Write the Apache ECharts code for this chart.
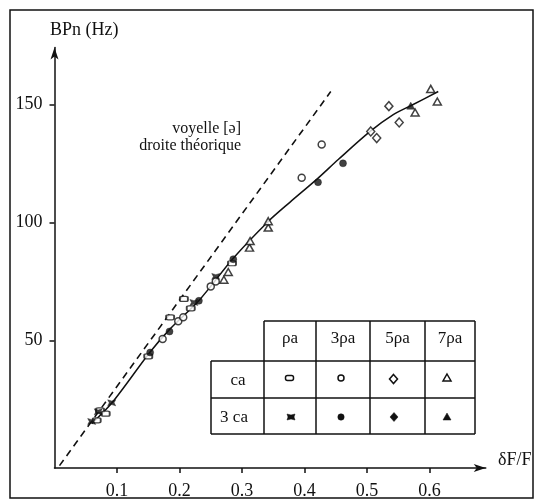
<!DOCTYPE html>
<html>
<head>
<meta charset="utf-8">
<script src="https://cdn.jsdelivr.net/npm/echarts@6/dist/echarts.min.js"></script>
<style>
html, body { margin: 0; background: #fff; }
#chart { width: 543px; height: 500px; }
</style>
</head>
<body>
<div id="chart"></div>
<script>
const xTicks = [0.1, 0.2, 0.3, 0.4, 0.5, 0.6];
const yTicks = [50, 100, 150];

// droite théorique (voyelle [ə])
const theoryLine = [[0.008, -3], [0.442, 155.4]];
// courbe tracée à travers les mesures
const fitCurve = [
    [0.0595, 14.8], [0.092, 23.6], [0.153, 45.1], [0.185, 54.9], [0.233, 67.5],
    [0.286, 84.8], [0.342, 100.4], [0.377, 108.6], [0.4195, 118.2], [0.454, 126.6],
    [0.505, 138.5], [0.542, 145.6], [0.5715, 149.6], [0.614, 155.4]
];

// mesures : colonne (ρa, 3ρa, 5ρa, 7ρa) x ligne (ca, 3 ca)
const rhoA_ca = [[0.0728, 20.4], [0.0819, 19.0], [0.0675, 16.2], [0.150, 43.3], [0.185, 59.8], [0.207, 67.6], [0.218, 63.6], [0.284, 82.7]];
const rhoA_3ca = [[0.0915, 23.6], [0.070, 19.8], [0.0595, 15.7], [0.223, 66.1], [0.258, 77.1]];
const rho3_ca = [[0.173, 50.6], [0.198, 58.1], [0.206, 59.8], [0.250, 72.9], [0.258, 75.0], [0.3955, 118.9], [0.4275, 133.0]];
const rho3_3ca = [[0.153, 44.9], [0.184, 53.8], [0.231, 66.8], [0.286, 84.4], [0.4216, 117.0], [0.4616, 125.0]];
const rho5_ca = [[0.506, 138.5], [0.5155, 135.7], [0.535, 149.2], [0.5515, 142.3]];
const rho7_ca = [[0.271, 75.7], [0.278, 79.0], [0.312, 89.3], [0.313, 92.1], [0.342, 97.8], [0.342, 100.5], [0.577, 146.5], [0.602, 156.5], [0.6125, 151.2]];
const rho7_3ca = [[0.570, 149.4]];

const tableCols = ['ρa', '3ρa', '5ρa', '7ρa'];
const tableRows = ['ca', '3 ca'];

const FONT = '"Liberation Serif", "DejaVu Serif", serif';
const INK = '#111';
const STAR = 'path://M0,0L5,2L10,0L8,5L10,10L5,8L0,10L2,5Z';

const openStyle = {color: '#fff', borderColor: INK, borderWidth: 1.5};
const fullStyle = {color: INK, borderColor: INK, borderWidth: 0.5};

function scatter(name, data, symbol, size, style) {
    return {
        name, type: 'scatter', data, symbol, symbolSize: size,
        itemStyle: style, z: 5, silent: true
    };
}

// tableau de légende
const colX = [264, 316, 370, 425, 475];
const rowY = [321, 361, 398, 434];
const leftX = 211;
const tableLines = [];
const hLine = (x1, x2, y) => tableLines.push({type: 'line', shape: {x1, y1: y, x2, y2: y}, style: {stroke: INK, lineWidth: 1.5}});
const vLine = (x, y1, y2) => tableLines.push({type: 'line', shape: {x1: x, y1, x2: x, y2}, style: {stroke: INK, lineWidth: 1.5}});
hLine(colX[0], colX[4], rowY[0]);
hLine(leftX, colX[4], rowY[1]);
hLine(leftX, colX[4], rowY[2]);
hLine(leftX, colX[4], rowY[3]);
vLine(leftX, rowY[1], rowY[3]);
colX.forEach(x => vLine(x, rowY[0], rowY[3]));

const txt = (text, x, y, size, align) => ({
    type: 'text', x, y,
    style: {text, fill: INK, font: size + 'px ' + FONT, align: align || 'center', verticalAlign: 'middle'}
});

tableCols.forEach((c, i) => tableLines.push(txt(c, (colX[i] + colX[i + 1]) / 2, 339, 17)));
tableLines.push(txt(tableRows[0], 238, 381, 17));
tableLines.push(txt(tableRows[1], 234, 418, 17));

const open = {fill: '#fff', stroke: INK, lineWidth: 1.5};
const full = {fill: INK, stroke: INK, lineWidth: 0.5};
const diamond = (cx, cy) => [[cx, cy - 4.5], [cx + 4, cy], [cx, cy + 4.5], [cx - 4, cy]];
const tri = (cx, cy) => [[cx, cy - 4], [cx + 4, cy + 3], [cx - 4, cy + 3]];
const star = (cx, cy) => [[cx - 4, cy - 3], [cx, cy - 2], [cx + 4, cy - 3], [cx + 3, cy], [cx + 4, cy + 3], [cx, cy + 2], [cx - 4, cy + 3], [cx - 3, cy]];
tableLines.push(
    {type: 'rect', shape: {x: 285.5, y: 375.5, width: 8, height: 5, r: 2}, style: open},
    {type: 'circle', shape: {cx: 341, cy: 378, r: 3}, style: open},
    {type: 'polygon', shape: {points: diamond(393.5, 379)}, style: open},
    {type: 'polygon', shape: {points: tri(447, 378)}, style: open},
    {type: 'polygon', shape: {points: star(291, 417)}, style: full},
    {type: 'circle', shape: {cx: 341, cy: 417, r: 3.2}, style: full},
    {type: 'polygon', shape: {points: diamond(394, 417)}, style: full},
    {type: 'polygon', shape: {points: tri(447, 417)}, style: full}
);

const chart = echarts.init(document.getElementById('chart'));
chart.setOption({
    backgroundColor: '#fff',
    animation: false,
    grid: {left: 54.5, right: 57.25, top: 47.6, bottom: 30.5},
    xAxis: {
        type: 'value', min: 0, max: 0.69,
        axisLine: {show: true, onZero: false, symbol: ['none', 'arrow'], symbolSize: [6, 12], lineStyle: {color: INK, width: 1.5}},
        axisTick: {show: true, customValues: xTicks, length: 5, lineStyle: {color: INK, width: 1.5}},
        axisLabel: {customValues: xTicks, margin: 14, color: INK, fontSize: 18, fontFamily: FONT},
        splitLine: {show: false}
    },
    yAxis: {
        type: 'value', min: -4, max: 174,
        axisLine: {show: true, onZero: false, symbol: ['none', 'arrow'], symbolSize: [6, 12], lineStyle: {color: INK, width: 1.5}},
        axisTick: {show: true, customValues: yTicks, length: 5, lineStyle: {color: INK, width: 1.5}},
        axisLabel: {customValues: yTicks, margin: 12, color: INK, fontSize: 18, fontFamily: FONT},
        splitLine: {show: false}
    },
    series: [
        {
            type: 'line', data: theoryLine, symbol: 'none', silent: true,
            lineStyle: {color: INK, width: 1.6, type: [7, 5]}
        },
        {
            type: 'line', data: fitCurve, symbol: 'none', smooth: 0.3, silent: true,
            lineStyle: {color: INK, width: 1.5}
        },
        scatter('ρa ca', rhoA_ca, 'roundRect', [8, 5], openStyle),
        scatter('ρa 3 ca', rhoA_3ca, STAR, [8, 6], fullStyle),
        scatter('3ρa ca', rho3_ca, 'circle', 7, openStyle),
        scatter('3ρa 3 ca', rho3_3ca, 'circle', 7, fullStyle),
        scatter('5ρa ca', rho5_ca, 'diamond', [8, 9], openStyle),
        scatter('7ρa ca', rho7_ca, 'triangle', [8, 7], openStyle),
        scatter('7ρa 3 ca', rho7_3ca, 'triangle', [8, 7], fullStyle)
    ],
    graphic: [
        {type: 'rect', shape: {x: 10, y: 10, width: 523, height: 488}, style: {fill: 'none', stroke: INK, lineWidth: 1.5}, z: 1},
        txt('BPn (Hz)', 50, 30, 18, 'left'),
        txt('δF/F', 498, 460, 18, 'left'),
        txt('voyelle [ə]', 241, 129, 16, 'right'),
        txt('droite théorique', 241, 146, 16, 'right'),
        ...tableLines
    ]
});
</script>
</body>
</html>
